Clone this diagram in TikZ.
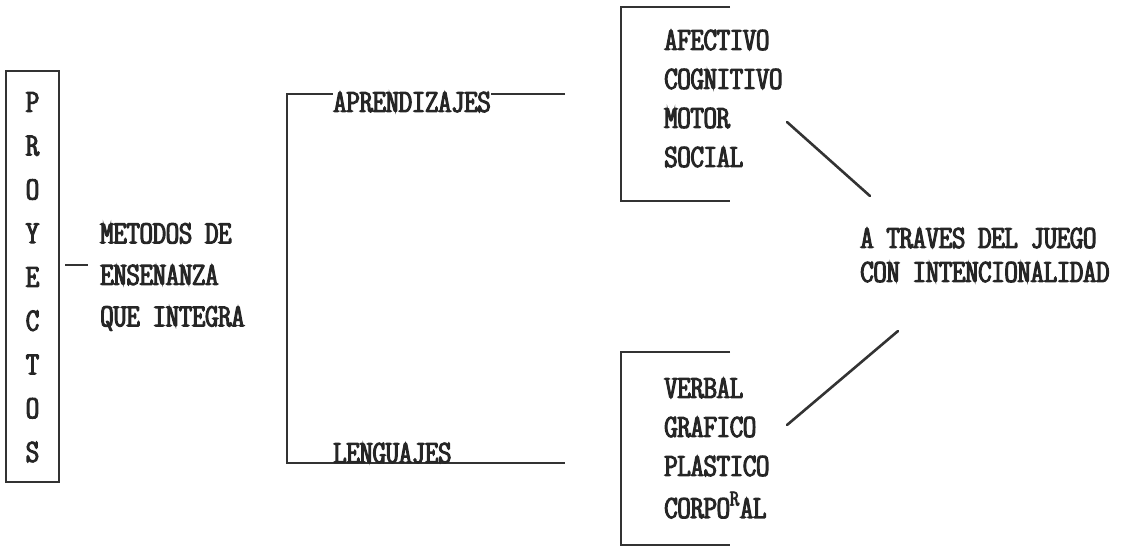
\documentclass[tikz,border=0pt]{standalone}
\usepackage{fontspec}
\newfontfamily\matrixfont[FakeBold=4,FakeStretch=1.17]{lmmonoltcond10-regular.otf}
\newcommand{\dotmatrix}{\matrixfont\fontsize{16}{20.75}\selectfont}
\usetikzlibrary{positioning}

\begin{document}
\begin{tikzpicture}[
    x=0.5pt, y=-0.5pt,
    label/.style={font=\dotmatrix, text=black!85, inner sep=0pt, anchor=west},
    letter/.style={font=\dotmatrix, text=black!85, inner sep=0pt},
    frame/.style={draw=black!80, line width=0.8pt},
    link/.style={draw=black!80, line width=1.3pt, line cap=round}
]
\useasboundingbox (0,0) rectangle (1134,547);

% PROYECTOS column
\node[frame, minimum width=26.5pt, minimum height=205.5pt, inner sep=0pt] (proyectos) at (32.5,276.5) {};
\foreach \l [count=\i from 0] in {P,R,O,Y,E,C,T,O,S}
    \node[letter] (p\i) at (32.5,102+43.75*\i) {\l};

% Metodos de ensenanza
\node[label, align=left] (metodos) at (100,277) {METODOS DE\\ENSENANZA\\QUE INTEGRA};
\coordinate (dashL) at (65,265);
\coordinate (dashR) at (88,265);
\draw[frame] (dashL) -- (dashR);

% Bracket: aprendizajes / lenguajes
\coordinate (brTop) at (287,94);
\coordinate (brBot) at (287,463);
\coordinate (aprEnd) at (565,94);
\coordinate (lenEnd) at (565,463);
\draw[frame] (aprEnd) -- (brTop) -- (brBot) -- (lenEnd);
\node[label, fill=white] (aprend) at (333,102) {APRENDIZAJES};
\node[label] (lenguajes) at (333,453) {LENGUAJES};

% Areas
\coordinate (areaNE) at (730,7);
\coordinate (areaSE) at (730,201);
\draw[frame] (areaNE) -- ++(-109,0) |- (areaSE);
\foreach \w [count=\i from 0] in {AFECTIVO,COGNITIVO,MOTOR,SOCIAL}
    \node[label] (area\i) at (664,40+39*\i) {\w};

% Lenguajes list
\coordinate (langNE) at (730,352);
\coordinate (langSE) at (730,545);
\draw[frame] (langNE) -- ++(-109,0) |- (langSE);
\foreach \w [count=\i from 0] in {VERBAL,GRAFICO,PLASTICO,{CORPO\textsuperscript{R}AL}}
    \node[label] (lang\i) at (664,388+39*\i) {\w};

% Juego
\node[label, align=left, font=\matrixfont\fontsize{16}{17}\selectfont] (juego) at (860,255) {A TRAVES DEL JUEGO\\CON INTENCIONALIDAD};

\coordinate (upA) at (787,122);
\coordinate (upB) at (870,196);
\coordinate (loA) at (787,425);
\coordinate (loB) at (898,331);
\draw[link] (upA) -- (upB);
\draw[link] (loA) -- (loB);

\end{tikzpicture}
\end{document}
